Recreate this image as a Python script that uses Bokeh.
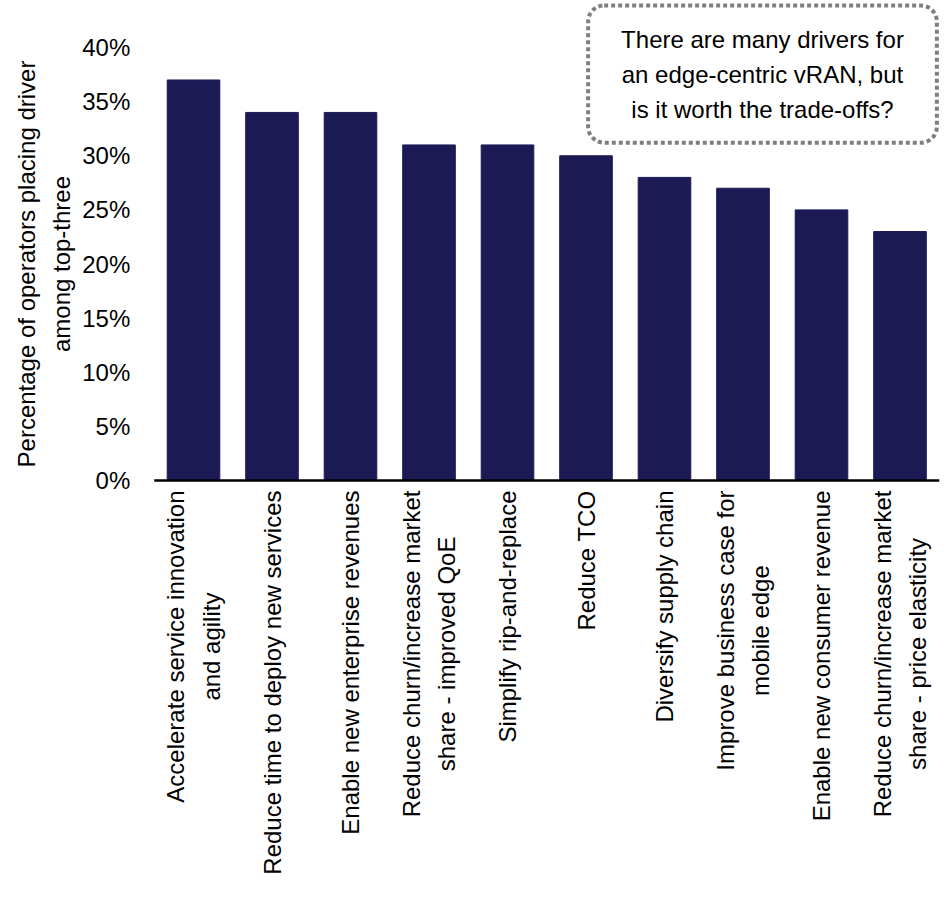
import math
from bokeh.plotting import figure
from bokeh.models import Range1d, Label, ColumnDataSource
from bokeh.core.properties import value
from bokeh.embed import file_html
from bokeh.resources import INLINE

categories = [
    "Accelerate service innovation\nand agility",
    "Reduce time to deploy new services",
    "Enable new enterprise revenues",
    "Reduce churn/increase market\nshare - improved QoE",
    "Simplify rip-and-replace",
    "Reduce TCO",
    "Diversify supply chain",
    "Improve business case for\nmobile edge",
    "Enable new consumer revenue",
    "Reduce churn/increase market\nshare - price elasticity",
]
values = [37, 34, 34, 31, 31, 30, 28, 27, 25, 23]
y_ticks = [0, 5, 10, 15, 20, 25, 30, 35, 40]
y_tick_labels = ["0%", "5%", "10%", "15%", "20%", "25%", "30%", "35%", "40%"]
y_title = "Percentage of operators placing driver\namong top-three"
note = "There are many drivers for\nan edge-centric vRAN, but\nis it worth the trade-offs?"

FONT = "Liberation Sans"
FS = "24px"
BAR = "#1c1a55"

W, H = 947, 897
# layout: bar slot 78.5 px, first slot centre at 193 px; 0% at 480 px, 10.825 px per percent
SLOT, X0 = 78.5, 193.0
PPU, Y0 = 10.825, 480.0

idx = list(range(len(categories)))
src = ColumnDataSource(dict(x=idx, cat=categories, val=values))
tick_src = ColumnDataSource(dict(y=y_ticks, t=y_tick_labels))

p = figure(width=W, height=H, output_backend="svg", toolbar_location=None,
           x_range=Range1d(-X0 / SLOT, (W - X0) / SLOT),
           y_range=Range1d(-(H - Y0) / PPU, Y0 / PPU),
           min_border=0)
p.axis.visible = False
p.grid.grid_line_color = None
p.outline_line_color = None
p.background_fill_color = "white"
p.border_fill_color = "white"

p.vbar(x="x", top="val", width=0.67, source=src, color=BAR)

# baseline (x axis line)
left_edge = idx[0] - 0.5
right_edge = idx[-1] + 0.5
p.segment(x0=[left_edge], y0=[0], x1=[right_edge], y1=[0], line_color="black", line_width=2.5)

# y tick labels
p.text(x=left_edge, y="y", text="t", source=tick_src, x_offset=-24,
       text_align="right", text_baseline="middle",
       text_font=value(FONT), text_font_size=FS, text_color="black")

# y axis title
p.text(x=[left_edge], y=[(y_ticks[0] + y_ticks[-1]) / 2], text=[y_title], x_offset=-110,
       angle=math.pi / 2, text_align="center", text_baseline="middle", anchor="center",
       text_line_height=1.3,
       text_font=value(FONT), text_font_size=FS, text_color="black")

# category labels, rotated, lines centred, top end just under the baseline
p.text(x="x", y=0, text="cat", source=src, y_offset=10,
       angle=math.pi / 2, text_align="center", anchor="center_right",
       text_line_height=1.3,
       text_font=value(FONT), text_font_size=FS, text_color="black")

lab = Label(x=762, y=y_ticks[-1], x_units="screen", y_offset=42, text=note,
            anchor="top_center", text_align="center",
            text_font=FONT, text_font_size=FS, text_color="black",
            text_line_height=1.3,
            border_line_color="#7f7f7f", border_line_width=4, border_line_dash="4 3",
            border_radius=16, padding=(33, 20), background_fill_color="white")
p.add_layout(lab)

open("out.html", "w").write(file_html(p, INLINE))
